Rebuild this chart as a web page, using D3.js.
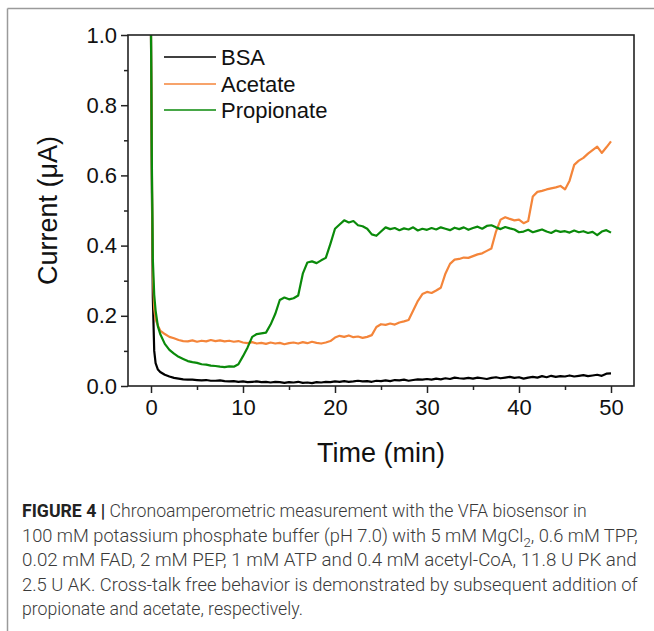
<!DOCTYPE html>
<html>
<head>
<meta charset="utf-8">
<script src="https://cdn.jsdelivr.net/npm/d3@7"></script>
<style>
html, body { margin: 0; padding: 0; background: #fff; }
svg { display: block; }
</style>
</head>
<body>
<svg id="chart" width="654" height="631"></svg>
<script>
// ---------- DATA ----------
const seriesNames = ["BSA", "Acetate", "Propionate"];
const seriesColors = ["#000000", "#F4853A", "#0A8A0A"];
const xTicks = [0, 10, 20, 30, 40, 50];
const yTicks = [0.0, 0.2, 0.4, 0.6, 0.8, 1.0];
const yTickLabels = ["0.0", "0.2", "0.4", "0.6", "0.8", "1.0"];

const time = [0, 0.1, 0.2, 0.35, 0.5, 0.75,
  1, 1.5, 2, 2.5, 3, 3.5, 4, 4.5, 5, 5.5, 6, 6.5, 7, 7.5, 8, 8.5, 9, 9.5,
  10, 10.5, 11, 11.5, 12, 12.5, 13, 13.5, 14, 14.5, 15, 15.5, 16, 16.5, 17, 17.5, 18, 18.5, 19, 19.5,
  20, 20.5, 21, 21.5, 22, 22.5, 23, 23.5, 24, 24.5, 25, 25.5, 26, 26.5, 27, 27.5, 28, 28.5, 29, 29.5,
  30, 30.5, 31, 31.5, 32, 32.5, 33, 33.5, 34, 34.5, 35, 35.5, 36, 36.5, 37, 37.5, 38, 38.5, 39, 39.5,
  40, 40.5, 41, 41.5, 42, 42.5, 43, 43.5, 44, 44.5, 45, 45.5, 46, 46.5, 47, 47.5, 48, 48.5, 49, 49.5, 50];

const bsa = [1.0, 0.55, 0.25, 0.10, 0.065, 0.047,
  0.040, 0.032, 0.027, 0.023, 0.021, 0.019, 0.018, 0.018, 0.017, 0.016, 0.017, 0.015, 0.015, 0.016, 0.014, 0.013, 0.014, 0.012,
  0.013, 0.011, 0.012, 0.013, 0.011, 0.012, 0.010, 0.012, 0.011, 0.009, 0.011, 0.010, 0.012, 0.009, 0.010, 0.008, 0.011, 0.010, 0.012, 0.011,
  0.013, 0.012, 0.014, 0.012, 0.013, 0.015, 0.013, 0.014, 0.012, 0.015, 0.014, 0.016, 0.014, 0.017, 0.016, 0.018, 0.015, 0.017, 0.019, 0.018,
  0.020, 0.018, 0.021, 0.019, 0.022, 0.020, 0.024, 0.022, 0.021, 0.023, 0.021, 0.024, 0.022, 0.020, 0.023, 0.025, 0.022, 0.024, 0.026, 0.023,
  0.025, 0.021, 0.024, 0.026, 0.024, 0.028, 0.025, 0.029, 0.026, 0.028, 0.027, 0.030, 0.027, 0.029, 0.031, 0.028, 0.030, 0.032, 0.029, 0.035, 0.036];

const acetate = [1.0, 0.60, 0.32, 0.22, 0.19, 0.172,
  0.158, 0.148, 0.140, 0.136, 0.131, 0.128, 0.127, 0.130, 0.126, 0.129, 0.127, 0.131, 0.128, 0.130, 0.127, 0.129, 0.126, 0.128,
  0.124, 0.122, 0.125, 0.121, 0.123, 0.120, 0.124, 0.121, 0.123, 0.119, 0.122, 0.124, 0.121, 0.125, 0.122, 0.126, 0.123, 0.121, 0.124, 0.128,
  0.138, 0.143, 0.140, 0.144, 0.139, 0.141, 0.137, 0.140, 0.145, 0.168, 0.176, 0.174, 0.178, 0.175, 0.181, 0.184, 0.188, 0.215, 0.242, 0.262,
  0.268, 0.265, 0.272, 0.280, 0.320, 0.348, 0.360, 0.362, 0.366, 0.365, 0.370, 0.375, 0.378, 0.385, 0.392, 0.440, 0.474, 0.481, 0.476, 0.472,
  0.474, 0.464, 0.470, 0.540, 0.553, 0.556, 0.560, 0.563, 0.566, 0.570, 0.560, 0.585, 0.630, 0.642, 0.650, 0.662, 0.672, 0.682, 0.664, 0.680, 0.697];

const propionate = [1.0, 0.62, 0.36, 0.26, 0.215, 0.17,
  0.148, 0.120, 0.103, 0.092, 0.083, 0.077, 0.071, 0.068, 0.066, 0.062, 0.061, 0.058, 0.057, 0.055, 0.054, 0.056, 0.055, 0.062,
  0.085, 0.110, 0.140, 0.148, 0.150, 0.152, 0.175, 0.205, 0.245, 0.252, 0.247, 0.250, 0.258, 0.320, 0.352, 0.355, 0.350, 0.358, 0.365, 0.405,
  0.448, 0.460, 0.472, 0.466, 0.470, 0.458, 0.455, 0.448, 0.432, 0.428, 0.440, 0.452, 0.447, 0.450, 0.444, 0.449, 0.446, 0.452, 0.443, 0.448,
  0.445, 0.450, 0.446, 0.452, 0.448, 0.444, 0.451, 0.447, 0.452, 0.445, 0.450, 0.454, 0.448, 0.456, 0.458, 0.452, 0.447, 0.453, 0.449, 0.446,
  0.438, 0.440, 0.445, 0.438, 0.442, 0.446, 0.440, 0.436, 0.443, 0.439, 0.441, 0.437, 0.443, 0.438, 0.441, 0.436, 0.439, 0.430, 0.440, 0.444, 0.437];

const seriesValues = [bsa, acetate, propionate];

const captionLines = [
  [{t: "FIGURE 4 | ", b: true}, {t: "Chronoamperometric measurement with the VFA biosensor in"}],
  [{t: "100 mM potassium phosphate buffer (pH 7.0) with 5 mM MgCl"}, {t: "2", sub: true}, {t: ", 0.6 mM TPP,"}],
  [{t: "0.02 mM FAD, 2 mM PEP, 1 mM ATP and 0.4 mM acetyl-CoA, 11.8 U PK and"}],
  [{t: "2.5 U AK. Cross-talk free behavior is demonstrated by subsequent addition of"}],
  [{t: "propionate and acetate, respectively."}]
];
const captionWidths = [565, 616, 615, 616, 281];

// ---------- LAYOUT ----------
const svg = d3.select("#chart");
const L = 128, R = 634, T = 35, B = 386;
const x = d3.scaleLinear().domain([-2.5, 52.5]).range([L, R]);
const y = d3.scaleLinear().domain([0, 1]).range([B, T]);
const FONT = "'Liberation Sans', Arial, sans-serif";

// outer frame (grey)
svg.append("line").attr("x1", 7.5).attr("x2", 7.5).attr("y1", 8.5).attr("y2", 631)
  .attr("stroke", "#9a9a9a").attr("stroke-width", 1.5);
svg.append("line").attr("x1", 7.5).attr("x2", 654).attr("y1", 8.5).attr("y2", 8.5)
  .attr("stroke", "#9a9a9a").attr("stroke-width", 1.5);

// clip
svg.append("defs").append("clipPath").attr("id", "plotclip")
  .append("rect").attr("x", L).attr("y", T).attr("width", R - L).attr("height", B - T);

// series
const lineGen = d3.line().x((d, i) => x(time[i])).y(d => y(d));
const gLines = svg.append("g").attr("clip-path", "url(#plotclip)");
seriesValues.forEach((vals, k) => {
  gLines.append("path").datum(vals)
    .attr("d", lineGen)
    .attr("fill", "none")
    .attr("stroke", seriesColors[k])
    .attr("stroke-width", 2.2)
    .attr("stroke-linejoin", "round");
});

// axes
const xAxis = d3.axisBottom(x).tickValues(xTicks).tickSize(7).tickSizeOuter(0).tickPadding(6);
const xMinor = d3.axisBottom(x).tickValues([5, 15, 25, 35, 45]).tickSize(4).tickSizeOuter(0).tickFormat("");
const yAxis = d3.axisLeft(y).tickValues(yTicks).tickSize(7).tickSizeOuter(0).tickPadding(4)
  .tickFormat((d, i) => yTickLabels[i]);
const yMinor = d3.axisLeft(y).tickValues([0.1, 0.3, 0.5, 0.7, 0.9]).tickSize(4).tickSizeOuter(0).tickFormat("");

function styleAxis(g) {
  g.select(".domain").remove();
  g.selectAll(".tick line").attr("stroke", "#222").attr("stroke-width", 1.5);
  g.selectAll(".tick text").attr("fill", "#111").style("font-family", FONT).style("font-size", "22px");
}
svg.append("g").attr("transform", `translate(0,${B})`).call(xAxis).call(styleAxis);
svg.append("g").attr("transform", `translate(0,${B})`).call(xMinor).call(styleAxis);
svg.append("g").attr("transform", `translate(${L},0)`).call(yAxis).call(styleAxis);
svg.append("g").attr("transform", `translate(${L},0)`).call(yMinor).call(styleAxis);

// plot frame
svg.append("rect").attr("x", L).attr("y", T).attr("width", R - L).attr("height", B - T)
  .attr("fill", "none").attr("stroke", "#222").attr("stroke-width", 1.6);

// axis titles
svg.append("text").attr("x", (L + R) / 2).attr("y", 462).attr("text-anchor", "middle")
  .style("font-family", FONT).style("font-size", "27px").attr("fill", "#111").text("Time (min)");
svg.append("text").attr("transform", `translate(57,${(T + B) / 2}) rotate(-90)`).attr("text-anchor", "middle")
  .style("font-family", FONT).style("font-size", "27px").attr("fill", "#111").text("Current (μA)");

// legend
const legY = [57, 84, 110];
seriesNames.forEach((name, k) => {
  svg.append("line").attr("x1", 164).attr("x2", 216).attr("y1", legY[k]).attr("y2", legY[k])
    .attr("stroke", seriesColors[k]).attr("stroke-width", 1.6);
  svg.append("text").attr("x", 221).attr("y", legY[k] + 8)
    .style("font-family", FONT).style("font-size", "22px").attr("fill", "#111").text(name);
});

// caption
const capBase = [517, 542, 566, 591, 615];
captionLines.forEach((parts, i) => {
  const g = svg.append("g");
  const t = g.append("text").attr("x", 0).attr("y", 0)
    .style("font-family", "Roboto, 'Liberation Sans', sans-serif").style("font-size", "18px").attr("fill", "#3a3a3a");
  parts.forEach((p, j) => {
    const ts = t.append("tspan").text(p.t);
    if (p.b) ts.style("font-weight", "700").attr("fill", "#222");
    else ts.style("font-weight", "300");
    if (p.sub) ts.attr("dy", 5).style("font-size", "13px");
    else if (j > 0 && parts[j - 1].sub) ts.attr("dy", -5);
  });
  const w = t.node().getComputedTextLength();
  const sx = captionWidths[i] / w;
  g.attr("transform", `translate(22,${capBase[i]}) scale(${sx},1)`);
});
</script>
</body>
</html>
